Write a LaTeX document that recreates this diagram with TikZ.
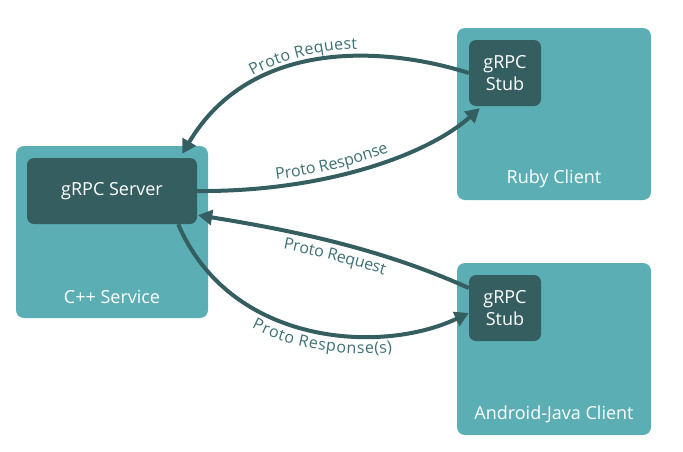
\documentclass[tikz,border=0pt]{standalone}
\usepackage{fontspec}
\setmainfont{Open Sans}
\usetikzlibrary{arrows.meta,decorations.text}
\definecolor{boxteal}{HTML}{5BAEB4}
\definecolor{stubteal}{HTML}{345E60}
\definecolor{labelteal}{HTML}{3D7073}
\newcommand{\linkfont}{\color{labelteal}\fontsize{16}{19}\selectfont}

\begin{document}
\begin{tikzpicture}[%
      x=1pt, y=-1pt,
      outerbox/.style={fill=boxteal, rounded corners=8pt, inner sep=0pt},
      innerbox/.style={fill=stubteal, text=white, rounded corners=7pt, inner sep=0pt,
        align=center, font=\fontsize{18}{22}\selectfont},
      boxlabel/.style={text=white, font=\fontsize{18}{21}\selectfont},
      link/.style={draw=stubteal, line width=4pt, -{Triangle[length=14pt,width=15pt]}},
      linklabel/.style n args={4}{postaction={decorate, decoration={text along path,
        text={|\linkfont|#1}, text align={left indent=#2}, raise=#3, reverse path=#4}}},
      ]
      \useasboundingbox (0,0) rectangle (683,451);

      \node [outerbox, minimum width=192pt, minimum height=172pt] (service) at (112,232) {};
      \node [outerbox, minimum width=194pt, minimum height=172pt] (ruby) at (554,114) {};
      \node [outerbox, minimum width=194pt, minimum height=172pt] (android) at (554,349) {};

      \node [innerbox, minimum width=170pt, minimum height=66pt] (server) at (112,191) {gRPC Server};
      \node [innerbox, minimum width=72pt, minimum height=66pt] (rubystub) at (505,73) {gRPC\\Stub};
      \node [innerbox, minimum width=72pt, minimum height=66pt] (androidstub) at (505,308) {gRPC\\Stub};

      \node [boxlabel] (servicename) at (112,297) {C++ Service};
      \node [boxlabel] (rubyname) at (554,179) {Ruby Client};
      \node [boxlabel] (androidname) at (554,414) {Android-Java Client};

      \draw [link, linklabel={Proto Request}{104pt}{7pt}{true}]
        (rubystub.west) .. controls (380,45) and (250,40) .. ([xshift=-15pt,yshift=4pt]server.north east);
      \draw [link, linklabel={Proto Response}{80pt}{7pt}{false}]
        (server.east) .. controls (320,192) and (425,157) .. ([xshift=11pt,yshift=-2pt]rubystub.south west);
      \draw [link, linklabel={Proto Request}{90pt}{-18pt}{true}]
        ([yshift=20pt]androidstub.west) .. controls (380,248) and (290,230) .. ([xshift=1pt,yshift=9pt]server.south east);
      \draw [link, linklabel={Proto Response(s)}{122pt}{-18pt}{false}]
        ([xshift=-19pt]server.south east) .. controls (230,345) and (380,355) .. ([yshift=-5pt]androidstub.west);
      \end{tikzpicture}
\end{document}
